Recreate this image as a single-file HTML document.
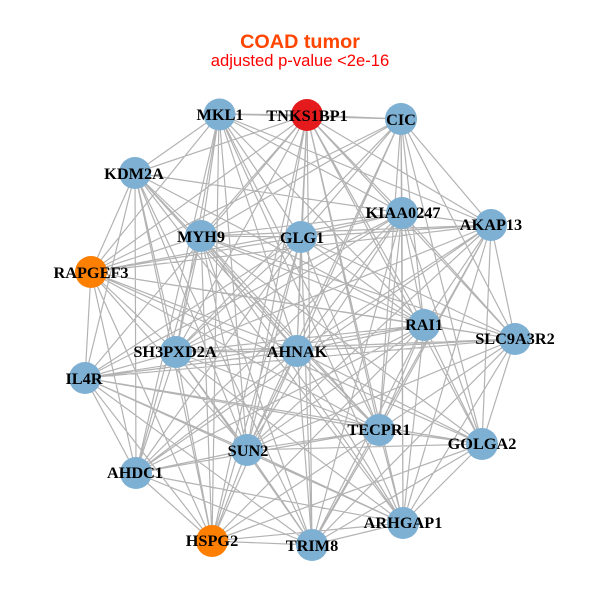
<!DOCTYPE html>
<html><head><meta charset="utf-8"><style>html,body{margin:0;padding:0;background:#fff}svg{display:block}text{font-family:"Liberation Serif",serif;font-weight:bold;font-size:16.3px;fill:#000;text-anchor:middle}</style></head><body>
<svg width="600" height="600" viewBox="0 0 600 600" xmlns="http://www.w3.org/2000/svg">
<rect width="600" height="600" fill="#fff"/>
<path fill="none" stroke="#b3b3b3" stroke-width="1.2" d="
M219 114L307 115M219 114L401 119M219 114L135 173M219 114L91 272M219 114L201 236M219 114L176 352M219 114L247 450M219 114L212 541M219 114L301 237M219 114L297 351M219 114L379 430M219 114L402 213M219 114L491 225M219 114L424 325M219 114L403 523M219 114L136 473
M307 115L401 119M307 115L135 173M307 115L301 237M307 115L201 236M307 115L402 213M307 115L91 272M307 115L176 352M307 115L297 351M307 115L247 450M307 115L312 545M307 115L403 523M307 115L379 430M307 115L424 325M307 115L515 339M307 115L482 444M307 115L491 225M307 115L85 378M307 115L212 541
M401 119L402 213M401 119L491 225M401 119L201 236M401 119L301 237M401 119L91 272M401 119L176 352M401 119L297 351M401 119L424 325M401 119L379 430M401 119L403 523M401 119L247 450M401 119L515 339M401 119L482 444
M135 173L91 272M135 173L201 236M135 173L176 352M135 173L85 378M135 173L136 473M135 173L247 450M135 173L402 213M135 173L297 351M135 173L424 325M135 173L379 430M135 173L403 523M135 173L312 545M135 173L212 541
M491 225L402 213M491 225L301 237M491 225L201 236M491 225L91 272M491 225L297 351M491 225L424 325M491 225L515 339M491 225L482 444M491 225L379 430M491 225L403 523M491 225L176 352M491 225L247 450M491 225L136 473M491 225L312 545
M402 213L301 237M402 213L201 236M402 213L91 272M402 213L297 351M402 213L424 325M402 213L515 339M402 213L482 444M402 213L379 430M402 213L403 523M402 213L176 352M402 213L247 450M402 213L312 545M402 213L136 473M402 213L85 378
M301 237L201 236M301 237L91 272M301 237L176 352M301 237L297 351M301 237L247 450M301 237L136 473M301 237L212 541M301 237L312 545M301 237L379 430M301 237L424 325M301 237L515 339M301 237L85 378
M201 236L91 272M201 236L176 352M201 236L297 351M201 236L247 450M201 236L136 473M201 236L212 541M201 236L312 545M201 236L379 430M201 236L424 325M201 236L515 339M201 236L403 523M201 236L482 444
M91 272L85 378M91 272L176 352M91 272L297 351M91 272L136 473M91 272L212 541M91 272L424 325M91 272L515 339M91 272L379 430M91 272L247 450M91 272L482 444
M85 378L176 352M85 378L297 351M85 378L247 450M85 378L136 473M85 378L212 541M85 378L379 430M85 378L424 325M85 378L515 339M85 378L482 444M85 378L403 523M85 378L312 545
M176 352L297 351M176 352L247 450M176 352L136 473M176 352L212 541M176 352L312 545M176 352L379 430M176 352L424 325M176 352L515 339M176 352L403 523
M297 351L247 450M297 351L136 473M297 351L212 541M297 351L312 545M297 351L403 523M297 351L482 444M297 351L379 430M297 351L424 325M297 351L515 339
M247 450L136 473M247 450L212 541M247 450L312 545M247 450L403 523M247 450L482 444M247 450L379 430M247 450L424 325M247 450L515 339
M136 473L212 541M136 473L312 545M136 473L403 523M136 473L379 430M136 473L424 325
M212 541L312 545M212 541L403 523M212 541L379 430M212 541L482 444M212 541L424 325
M312 545L403 523M312 545L482 444M312 545L379 430M312 545L424 325M312 545L515 339
M403 523L482 444M403 523L379 430M403 523L424 325M403 523L515 339
M482 444L379 430M482 444L424 325M482 444L515 339
M379 430L424 325M379 430L515 339
M424 325L515 339"/>
<g fill="#7eb0d3">
<circle cx="219.5" cy="114.5" r="16"/>
<circle cx="401" cy="119" r="16"/>
<circle cx="491" cy="225" r="16"/>
<circle cx="402" cy="213" r="16"/>
<circle cx="301" cy="237" r="16"/>
<circle cx="201" cy="236" r="16"/>
<circle cx="135" cy="173" r="16"/>
<circle cx="85" cy="378" r="16"/>
<circle cx="176" cy="352" r="16"/>
<circle cx="297" cy="351" r="16"/>
<circle cx="247" cy="450" r="16"/>
<circle cx="136" cy="473" r="16"/>
<circle cx="312" cy="545" r="16"/>
<circle cx="403" cy="523" r="16"/>
<circle cx="482" cy="444" r="16"/>
<circle cx="379" cy="430" r="16"/>
<circle cx="424" cy="325" r="16"/>
<circle cx="515" cy="339" r="16"/>
</g>
<circle cx="307" cy="115" r="16" fill="#e41a1c"/>
<circle cx="91" cy="272" r="16" fill="#ff7f00"/>
<circle cx="212" cy="541" r="16" fill="#ff7f00"/>
<text x="220" y="120">MKL1</text>
<text x="307" y="121">TNKS1BP1</text>
<text x="401" y="125">CIC</text>
<text x="491" y="230">AKAP13</text>
<text x="403" y="218">KIAA0247</text>
<text x="302" y="243">GLG1</text>
<text x="201" y="242">MYH9</text>
<text x="134" y="179">KDM2A</text>
<text x="91" y="278">RAPGEF3</text>
<text x="84" y="384">IL4R</text>
<text x="175" y="357">SH3PXD2A</text>
<text x="297" y="357">AHNAK</text>
<text x="248" y="456">SUN2</text>
<text x="135" y="478">AHDC1</text>
<text x="212" y="546">HSPG2</text>
<text x="312" y="551">TRIM8</text>
<text x="403" y="528">ARHGAP1</text>
<text x="482" y="449">GOLGA2</text>
<text x="379" y="435">TECPR1</text>
<text x="424" y="330">RAI1</text>
<text x="515" y="344">SLC9A3R2</text>
<text x="300" y="48" style="font-family:'Liberation Sans',sans-serif;font-size:19.8px;fill:#ff4500">COAD tumor</text>
<text x="300" y="66" style="font-family:'Liberation Sans',sans-serif;font-weight:normal;font-size:16.6px;fill:#ff0000">adjusted p-value &lt;2e-16</text>
</svg>
</body></html>
